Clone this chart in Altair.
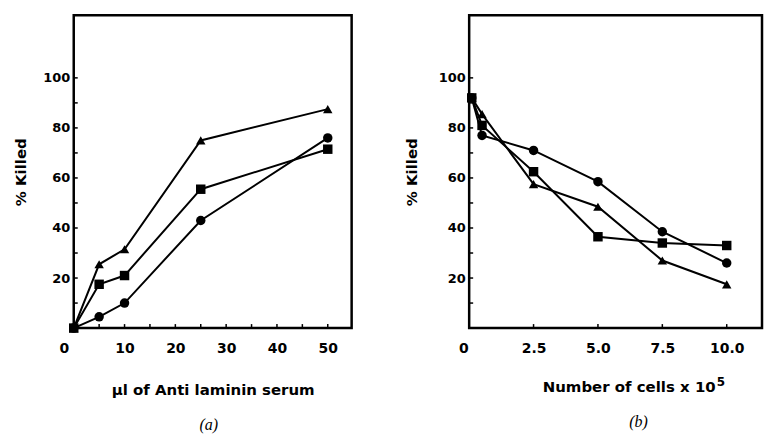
import altair as alt
import pandas as pd

# ---- Panel (a): % killed vs µl of anti-laminin serum
serum_ul = [0, 5, 10, 25, 50]
a_triangle = [0, 25.5, 31.5, 75, 87.5]
a_square = [0, 17.5, 21, 55.5, 71.5]
a_circle = [0, 4.5, 10, 43, 76]

# ---- Panel (b): % killed vs number of cells x 10^5
cells_e5 = [0.1, 0.5, 2.5, 5.0, 7.5, 10.0]
b_circle = [92, 77, 71, 58.5, 38.5, 26]
b_square = [92, 81, 62.5, 36.5, 34, 33]
b_triangle = [92, 85.5, 57.5, 48.5, 27, 17.5]

# ---- axis tick values / labels
y_labels = [20, 40, 60, 80, 100]
y_ticks = [10, 20, 30, 40, 50, 60, 70, 80, 90, 100]
a_xlabels = [0, 10, 20, 30, 40, 50]
a_xticks = [5, 10, 15, 20, 25, 30, 35, 40, 45, 50]
b_xlabels = [0, 2.5, 5.0, 7.5, 10.0]
b_xticks = [2.5, 5.0, 7.5, 10.0]
b_exponent = ["5"]


def long_df(xs, series):
    rows = []
    for name, ys in series.items():
        for x, y in zip(xs, ys):
            rows.append({"x": x, "y": y, "series": name})
    return pd.DataFrame(rows)


df_a = long_df(serum_ul, {"triangle": a_triangle, "square": a_square, "circle": a_circle})
df_b = long_df(cells_e5, {"circle": b_circle, "square": b_square, "triangle": b_triangle})

H = 314
FONT = "DejaVu Sans"


def panel(df, xdomain, width, xlabels, xticks, xtitle, caption, zero_off,
          label_expr, ytitle_x, xtitle_y, cap_dx, xtitle_x=None, exponent=None):
    xscale = alt.Scale(domain=xdomain, nice=False, zero=False)
    yscale = alt.Scale(domain=[0, 125], nice=False)
    extra = {}
    if xtitle_x is not None:
        extra = {"titleX": xtitle_x, "titleAlign": "right"}
    xaxis = alt.Axis(
        values=xlabels, ticks=False, domain=False, grid=False,
        labelExpr=label_expr,
        labelAlign={"condition": {"test": "datum.value === 0", "value": "right"}, "value": "center"},
        labelOffset={"condition": {"test": "datum.value === 0", "value": zero_off}, "value": 0},
        labelPadding=14, labelFontSize=14,
        title=xtitle, titleY=xtitle_y, titleBaseline="alphabetic", titleFontSize=15,
        **extra,
    )
    yaxis = alt.Axis(
        values=y_labels, ticks=False, domain=False, grid=False,
        labelPadding=4, labelFontSize=13,
        title="% Killed", titleX=ytitle_x, titleY=H / 2, titleBaseline="middle",
        titleAngle=-90, titleFontSize=15,
    )
    X = alt.X("x:Q", scale=xscale, axis=xaxis)
    Y = alt.Y("y:Q", scale=yscale, axis=yaxis)

    base = alt.Chart(df)
    lines = base.mark_line(color="black", strokeWidth=2).encode(
        x=X, y=Y, detail="series:N", order="x:Q"
    )
    points = base.mark_point(filled=True, color="black", opacity=1, size=90).encode(
        x=X, y=Y,
        shape=alt.Shape("series:N",
                        scale=alt.Scale(domain=["circle", "square", "triangle"],
                                        range=["circle", "square", "triangle-up"]),
                        legend=None),
    )
    xt = alt.Chart(pd.DataFrame({"x": xticks})).mark_rule(color="black", strokeWidth=1.5).encode(
        x=X, y=alt.value(H), y2=alt.value(H - 4)
    )
    yt = alt.Chart(pd.DataFrame({"y": y_ticks})).mark_rule(color="black", strokeWidth=1.5).encode(
        y=Y, x=alt.value(0), x2=alt.value(4)
    )
    layers = [xt, yt, lines, points]
    if exponent is not None:
        sup = alt.Chart(pd.DataFrame({"t": exponent})).mark_text(
            font=FONT, fontWeight="bold", fontSize=12, color="black",
            align="left", baseline="alphabetic",
        ).encode(text="t:N", x=alt.value(xtitle_x + 1.5), y=alt.value(H + xtitle_y - 6))
        layers.append(sup)
    return alt.layer(*layers).properties(
        width=width, height=H,
        title=alt.TitleParams(caption, orient="bottom", font="Liberation Serif",
                              fontSize=16, fontStyle="italic", fontWeight="normal",
                              color="black", offset=19, dx=cap_dx),
    )


left = panel(df_a, [0, 54.7], 279, a_xlabels, a_xticks, "µl of Anti  laminin serum",
             "(a)", -5, "datum.label", -53, 67, -4)
right = panel(df_b, [0, 11.37], 294, b_xlabels, b_xticks, "Number of cells x 10",
              "(b)", -1, "datum.value === 0 ? '0' : format(datum.value, '.1f')", -58, 64, 23,
              xtitle_x=247, exponent=b_exponent)

chart = alt.hconcat(left, right, spacing=49).properties(
    padding={"left": 4, "top": 4.5, "right": 0, "bottom": 0},
    background="white",
).configure_view(
    stroke="black", strokeWidth=2.5
).configure_axis(
    labelFont=FONT, labelFontWeight="bold", labelColor="black",
    titleFont=FONT, titleFontWeight="bold", titleColor="black",
)

chart.save("out.html", embed_options={"renderer": "svg", "actions": False})
